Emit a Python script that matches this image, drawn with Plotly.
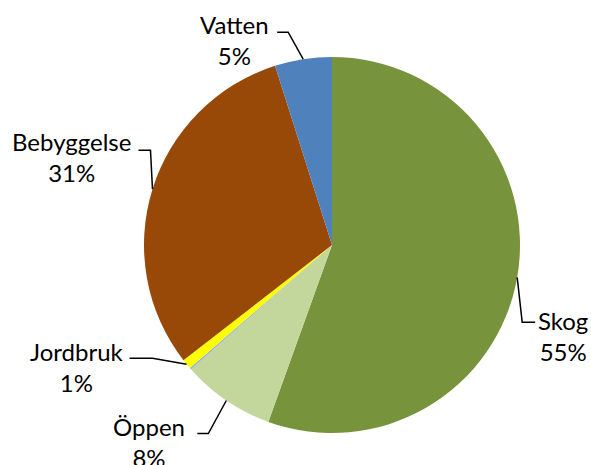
import math
import plotly.graph_objects as go

categories = ["Skog", "Öppen", "Våtmark", "Jordbruk", "Bebyggelse", "Vatten"]
values = [55.5, 8.0, 0.15, 0.85, 30.6, 4.9]
pct_labels = ["55%", "8%", "", "1%", "31%", "5%"]
colors = ["#77933C", "#C3D69B", "#95B3D7", "#FFFF00", "#984807", "#4F81BD"]

W, H = 591, 465
CX, CY, R = 332, 245, 188

# label layout: (elbow offset, end offset, text-centre offset) relative to slice-edge anchor, px
label_layout = {
    "Skog": ((5, 45), (18, 45), (46, 59)),
    "Öppen": ((-18, 33), (-29, 33), (-77, 42)),
    "Jordbruk": ((-34, -6), (-57, -6), (-110, 3)),
    "Bebyggelse": ((-2, -39), (-14, -39), (-81, -32)),
    "Vatten": ((-15, -27), (-26, -27), (-69, -19)),
}

fig = go.Figure(go.Pie(
    labels=categories, values=values, sort=False, direction="clockwise", rotation=0,
    marker=dict(colors=colors, line=dict(width=0)), textinfo="none",
    hoverinfo="skip", showlegend=False,
    domain=dict(x=[(CX - R) / W, (CX + R) / W], y=[(H - CY - R) / H, (H - CY + R) / H]),
))

def px2paper(x, y):
    return x / W, 1 - y / H

total = sum(values)
cum = 0.0
shapes, annotations = [], []
for cat, v, pl in zip(categories, values, pct_labels):
    mid = (cum + v / 2) / total * 2 * math.pi
    cum += v
    if cat not in label_layout:
        continue
    ax = CX + R * math.sin(mid)
    ay = CY - R * math.cos(mid)
    (ex, ey), (hx, hy), (tx, ty) = label_layout[cat]
    p0 = px2paper(ax, ay)
    p1 = px2paper(ax + ex, ay + ey)
    p2 = px2paper(ax + hx, ay + hy)
    shapes.append(dict(type="path", xref="paper", yref="paper",
                       path=f"M {p0[0]} {p0[1]} L {p1[0]} {p1[1]} L {p2[0]} {p2[1]}",
                       line=dict(color="black", width=1.5)))
    tp = px2paper(ax + tx, ay + ty)
    annotations.append(dict(x=tp[0], y=tp[1], xref="paper", yref="paper",
                            text=f"{cat}<br>{pl}", showarrow=False,
                            xanchor="center", yanchor="middle", align="center",
                            font=dict(family="Lato", size=24, color="black")))

fig.update_layout(width=W, height=H, margin=dict(l=0, r=0, t=0, b=0),
                  paper_bgcolor="white", plot_bgcolor="white",
                  shapes=shapes, annotations=annotations)
fig.write_html("out.html", config={"displayModeBar": False},
               post_script="document.body.style.margin='0';document.body.style.overflow='hidden';")
